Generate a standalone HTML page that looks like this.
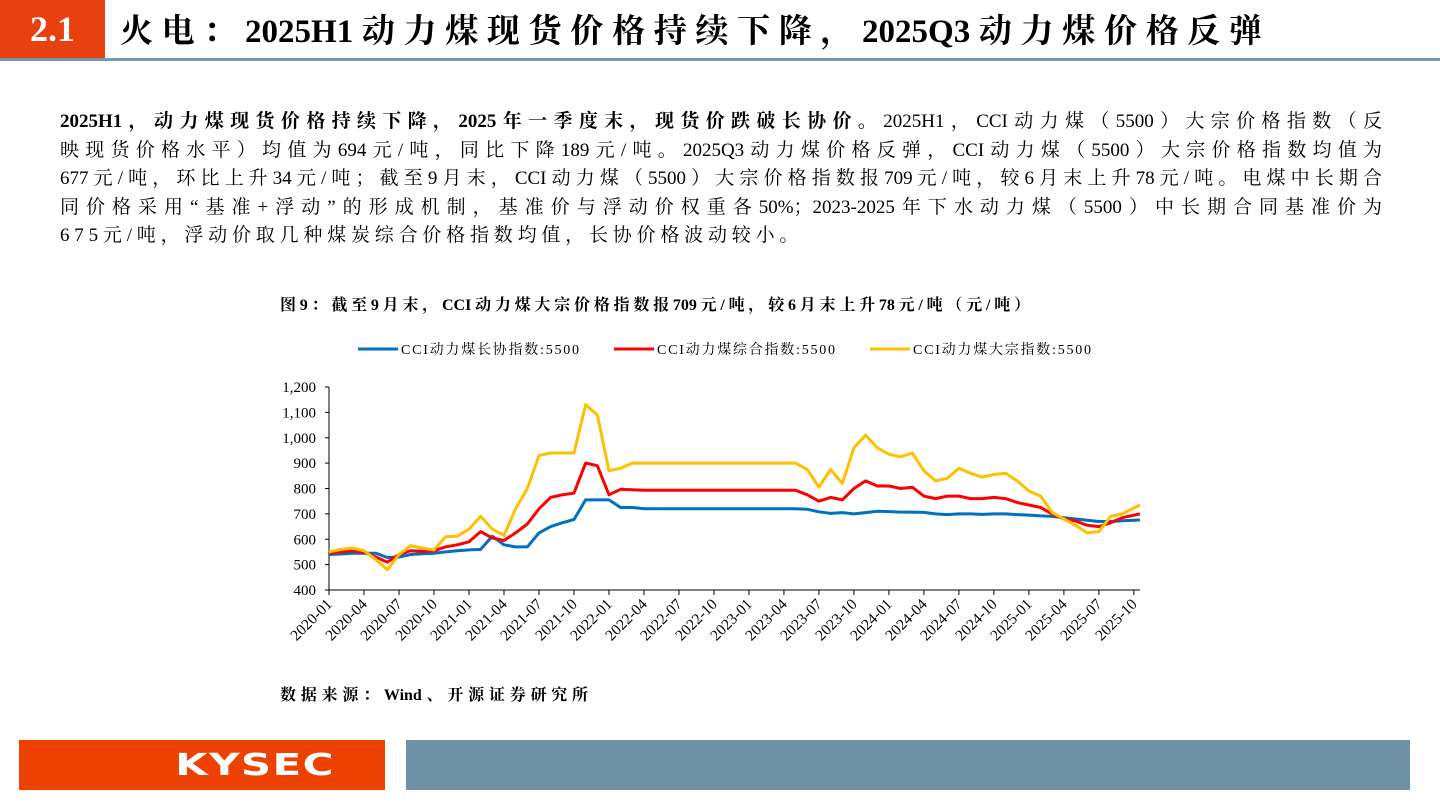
<!DOCTYPE html>
<html><head><meta charset="utf-8"><style>
body{margin:0;width:1440px;height:810px;background:#fff;position:relative;overflow:hidden;font-family:"Liberation Serif","Noto Serif CJK SC",serif;}
.abs{position:absolute;}
.ln{position:absolute;left:60px;width:1322px;font-size:19px;height:28px;line-height:28px;text-align:justify;text-align-last:justify;white-space:nowrap;color:#000;}
.jt{text-align:justify;text-align-last:justify;white-space:nowrap;}
</style></head><body>
<div class="abs" style="left:0;top:0;width:105px;height:58px;background:#e8410f;color:#fff;font-weight:bold;font-size:36px;line-height:58px;text-align:center;">2.1</div>
<div class="abs jt" style="left:120px;top:0;width:1142px;height:58px;line-height:64px;font-size:33px;font-weight:bold;">火电：2025H1动力煤现货价格持续下降，2025Q3动力煤价格反弹</div>
<div class="abs" style="left:0;top:58px;width:1440px;height:3px;background:#7a97aa;"></div>
<div>
<div class="ln" style="top:108px"><b>2025H1，动力煤现货价格持续下降，2025年一季度末，现货价跌破长协价。</b>2025H1，CCI动力煤（5500）大宗价格指数（反</div>
<div class="ln" style="top:136.6px">映现货价格水平）均值为694元/吨，同比下降189元/吨。2025Q3动力煤价格反弹，CCI动力煤（5500）大宗价格指数均值为</div>
<div class="ln" style="top:165.2px">677元/吨，环比上升34元/吨；截至9月末，CCI动力煤（5500）大宗价格指数报709元/吨，较6月末上升78元/吨。电煤中长期合</div>
<div class="ln" style="top:193.8px">同价格采用“基准+浮动”的形成机制，基准价与浮动价权重各50%；2023-2025年下水动力煤（5500）中长期合同基准价为</div>
<div class="ln" style="top:222.4px;width:auto;text-align-last:auto;letter-spacing:4.8px">675元/吨，浮动价取几种煤炭综合价格指数均值，长协价格波动较小。</div>
</div>
<div class="abs jt" style="left:280px;top:292px;width:750px;font-size:16px;font-weight:bold;">图9：截至9月末，CCI动力煤大宗价格指数报709元/吨，较6月末上升78元/吨（元/吨）</div>
<div class="abs jt" style="left:280px;top:682px;width:308px;font-size:16px;font-weight:bold;">数据来源：Wind、开源证券研究所</div>
<div class="abs" style="left:19px;top:740px;width:366px;height:50px;background:#ec4100;"></div>
<div class="abs" style="left:160px;top:740px;width:190px;height:50px;line-height:52px;color:#fff;font-family:'DejaVu Sans',sans-serif;font-weight:900;font-size:30px;letter-spacing:1px;text-align:center;transform:scaleX(1.4);transform-origin:center;">KYSEC</div>
<div class="abs" style="left:406px;top:740px;width:1004px;height:50px;background:#6f92a7;"></div>
<svg class="abs" style="left:0;top:0" width="1440" height="810" id="chart"></svg>
<script>
const yTicks=[400,500,600,700,800,900,1000,1100,1200];
const yTickLabels=["400","500","600","700","800","900","1,000","1,100","1,200"];
const xTickLabels=["2020-01","2020-04","2020-07","2020-10","2021-01","2021-04","2021-07","2021-10","2022-01","2022-04","2022-07","2022-10","2023-01","2023-04","2023-07","2023-10","2024-01","2024-04","2024-07","2024-10","2025-01","2025-04","2025-07","2025-10"];
const seriesNames=["CCI动力煤长协指数:5500","CCI动力煤综合指数:5500","CCI动力煤大宗指数:5500"];
const longTerm=[540,542,545,545,545,528,530,540,543,545,550,555,558,560,612,578,570,570,625,650,665,678,755,755,755,725,725,720,720,720,720,720,720,720,720,720,720,720,720,720,720,718,708,702,705,700,705,710,709,707,707,706,700,697,700,700,698,700,700,697,695,692,690,685,680,675,670,670,673,676];
const composite=[545,550,555,548,530,510,540,555,553,555,570,578,590,630,605,595,625,660,720,765,775,782,900,890,775,797,795,793,793,793,793,793,793,793,793,793,793,793,793,793,793,775,750,765,755,800,830,810,810,800,805,770,760,770,770,760,760,765,760,745,735,725,700,680,672,655,650,665,685,700];
const spot=[550,560,565,555,520,480,540,575,565,558,610,612,640,690,640,615,720,800,930,940,940,940,1130,1090,870,880,900,900,900,900,900,900,900,900,900,900,900,900,900,900,900,875,805,875,820,960,1010,960,935,925,940,870,830,840,880,860,845,855,860,830,790,770,705,680,655,625,630,690,700,735];
const X0=329,MW=11.665,Y0=590,YK=203/800;
const xs=i=>X0+i*MW+(i===69?6:0);
const ys=v=>Y0-(v-400)*YK;
const svg=document.getElementById('chart');const NS='http://www.w3.org/2000/svg';
function mk(t,a){const e=document.createElementNS(NS,t);for(const k in a)e.setAttribute(k,a[k]);svg.appendChild(e);return e;}
let ax=mk('line',{x1:X0,y1:387,x2:X0,y2:Y0,stroke:'#000','stroke-width':1});


let bx=mk('line',{x1:X0,y1:Y0,x2:1140,y2:Y0,stroke:'#000','stroke-width':1});


yTicks.forEach((v,i)=>{const y=ys(v);
 let t=mk('line',{x1:X0-4,y1:y,x2:X0,y2:y,stroke:'#000'});
 
 
 let l=mk('text',{x:X0-13,y:y+5,'text-anchor':'end','font-size':15,'font-family':'Liberation Serif'});l.textContent=yTickLabels[i];
 
 });
xTickLabels.forEach((s,i)=>{const x=X0+i*3*MW;
 let t=mk('line',{x1:x,y1:Y0,x2:x,y2:Y0+5,stroke:'#000'});
 
 
 let l=mk('text',{x:x+4,y:Y0+15,'text-anchor':'end','font-size':15.5,'font-family':'Liberation Serif',transform:`rotate(-45 ${x+4} ${Y0+15})`});l.textContent=s;
 
 });
const cols=['#0070c0','#ff0000','#ffc000'];
[longTerm,composite,spot].forEach((d,k)=>{const p=d.map((v,i)=>(i?'L':'M')+xs(i).toFixed(1)+','+ys(v).toFixed(1)).join('');
 let e=mk('path',{d:p,fill:'none',stroke:cols[k],'stroke-width':3,'stroke-linejoin':'round'});
 
 });
[[358,seriesNames[0]],[614,seriesNames[1]],[870,seriesNames[2]]].forEach(([x,s],k)=>{
 let l=mk('line',{x1:x,y1:349,x2:x+40,y2:349,stroke:cols[k],'stroke-width':3});
 
 
 let t=mk('text',{x:x+43,y:354,'font-size':14,textLength:178,lengthAdjust:'spacing','font-family':'Liberation Serif, Noto Serif CJK SC, serif'});t.textContent=s;
 
 });
</script>
</body></html>
